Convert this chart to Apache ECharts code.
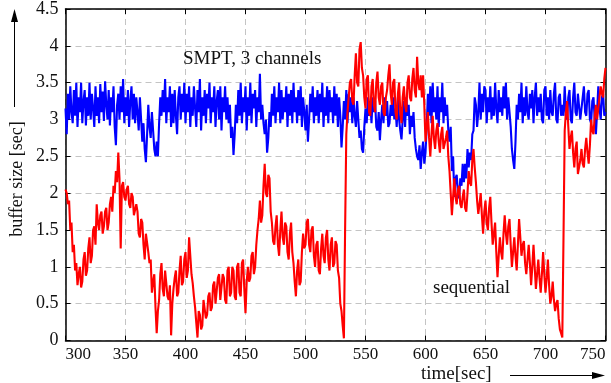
<!DOCTYPE html>
<html>
<head>
<meta charset="utf-8">
<script src="https://cdn.jsdelivr.net/npm/echarts@6/dist/echarts.min.js"></script>
<style>
html,body{margin:0;padding:0;background:#fff;}
#c{width:611px;height:383px;}
</style>
</head>
<body>
<div id="c"></div>
<script>
// sampling grid of both traces: one value per second from 300 s to 750 s
const tStart = 300;
const tStep = 1;

// SMPT, 3 channels (blue) — buffer size [sec], rows of 10 s
const smpt = [
3.15,2.8,3.35,3.0,3.45,3.1,2.95,3.4,3.05,3.5,
2.9,3.3,3.1,3.5,2.95,3.25,3.4,2.92,3.3,3.05,
3.5,3.0,3.35,3.15,2.9,3.45,3.05,3.3,2.95,3.48,
3.1,3.38,2.98,3.52,3.2,3.0,3.4,2.92,3.3,3.1,
3.45,2.9,2.65,3.2,3.35,3.0,3.45,3.1,3.55,2.95,
3.3,3.05,3.4,2.9,3.25,3.45,3.0,3.35,2.95,3.3,
3.1,2.85,3.3,3.0,2.7,2.95,2.6,2.42,2.8,3.2,
2.9,2.75,3.1,2.85,2.6,2.5,2.7,2.5,2.95,3.3,
3.05,3.4,3.1,3.55,2.95,3.3,3.1,3.45,2.9,3.35,
2.95,3.4,3.05,2.8,3.3,3.45,3.0,3.35,3.1,3.5,
2.95,3.35,3.1,3.45,2.9,3.3,3.05,3.45,3.15,2.9,
3.4,3.1,3.55,2.85,3.3,3.05,3.4,2.95,3.35,3.15,
3.5,2.95,3.3,3.1,3.45,2.9,3.25,3.4,3.0,3.45,
2.85,3.3,3.1,3.45,3.0,3.3,2.95,3.2,2.75,2.9,
2.52,2.8,3.2,2.95,3.4,3.05,3.5,2.95,3.3,3.1,
3.45,2.85,3.3,3.05,3.5,2.95,3.35,3.15,3.4,2.9,
3.3,3.1,3.62,3.0,3.2,2.95,2.8,3.0,2.55,2.75,
3.1,2.9,3.35,3.05,3.45,2.95,3.3,3.1,3.5,2.95,
3.4,3.0,3.3,3.1,3.45,2.9,3.35,3.05,3.4,2.95,
3.5,3.1,3.3,2.95,3.4,3.05,3.45,2.9,3.3,3.1,
2.85,3.2,2.7,3.0,3.35,3.1,3.45,2.95,3.3,3.05,
3.4,2.95,3.35,3.1,3.5,2.9,3.3,3.05,3.45,2.95,
3.4,3.1,3.3,2.95,3.45,3.05,3.35,2.9,3.3,3.05,
2.62,2.9,3.25,3.0,3.4,2.95,3.35,3.1,3.3,2.95,
3.3,3.05,2.9,3.25,3.0,2.75,2.85,2.6,2.55,2.9,
3.15,2.95,3.3,3.05,3.25,2.95,3.3,3.1,3.25,2.9,
2.85,3.1,2.72,3.0,3.2,2.95,3.3,3.05,3.25,2.9,
2.95,3.2,3.05,3.3,3.0,3.15,2.9,3.3,3.0,2.85,
2.73,3.0,3.25,2.9,3.3,3.05,3.2,2.8,3.05,2.9,
3.1,2.75,2.6,2.5,2.45,2.65,2.33,2.55,2.7,2.4,
2.55,2.9,3.35,3.05,3.45,2.95,3.5,3.1,3.3,3.0,
3.45,2.9,3.3,3.1,3.5,2.95,3.3,3.05,3.2,2.85,
2.7,2.9,2.3,2.5,1.95,2.2,2.25,2.0,1.93,2.2,
2.1,2.4,2.15,2.4,2.2,2.6,2.35,2.55,2.45,2.8,
2.85,3.3,3.2,2.9,3.1,3.5,3.0,3.35,3.1,3.45,
3.4,2.95,3.3,3.1,3.45,3.0,3.3,3.05,3.5,3.15,
2.95,3.4,3.1,3.3,3.05,3.45,3.15,3.5,3.0,3.3,
3.1,2.9,2.6,2.45,2.33,2.7,3.2,3.0,3.35,3.1,
3.5,2.95,3.3,3.05,3.45,3.1,3.0,3.35,3.15,3.4,
2.95,3.3,3.5,3.05,3.3,3.1,3.35,3.0,2.95,3.4,
3.45,3.05,3.3,3.0,3.4,3.1,3.05,3.35,3.5,3.0,
2.95,3.3,3.35,3.05,3.2,3.05,3.45,3.1,3.0,3.3,
3.4,3.0,2.95,3.3,3.5,3.1,3.05,3.35,3.35,3.0,
3.0,3.3,3.45,3.1,3.05,3.35,3.4,3.0,2.95,3.25,
3.3,3.0,2.8,3.1,3.45,3.15,3.0,3.3,3.35,3.05,
3.1
];

// sequential (red) — buffer size [sec], rows of 10 s
const sequential = [
2.05,2.0,1.85,1.9,1.5,1.6,1.2,1.3,0.95,1.05,
0.75,0.9,1.0,0.72,0.8,1.1,1.2,0.88,0.95,1.25,
1.4,1.05,1.15,1.5,1.55,1.3,1.85,1.6,1.5,1.7,
1.75,1.45,1.55,1.75,1.8,1.5,1.6,1.85,1.95,1.75,
2.1,2.0,2.3,2.15,2.55,2.2,1.25,2.1,2.15,1.95,
1.9,2.05,2.1,1.85,1.8,2.0,1.95,1.7,1.7,1.85,
1.75,1.45,1.4,1.65,1.6,1.3,1.1,1.45,1.45,1.2,
1.05,1.1,0.65,0.8,0.9,0.45,0.1,0.4,0.55,0.9,
1.05,0.7,0.6,0.95,0.95,0.6,0.55,0.75,0.07,0.5,
0.7,0.85,0.95,0.6,0.65,0.95,1.15,0.75,0.8,1.1,
1.2,0.85,0.95,1.4,1.4,0.9,0.78,0.6,0.45,0.24,
0.04,0.4,0.35,0.15,0.2,0.55,0.55,0.3,0.35,0.6,
0.65,0.4,0.45,0.75,0.8,0.5,0.5,0.85,0.9,0.55,
0.55,0.9,0.85,0.55,0.5,0.95,1.0,0.6,0.65,1.0,
0.95,0.6,0.55,1.0,1.05,0.65,0.6,1.05,1.1,0.7,
0.37,0.8,1.0,0.8,0.85,1.15,1.2,0.9,1.0,1.3,
1.5,1.65,1.9,1.6,1.7,2.1,2.4,2.0,1.95,2.25,
2.2,1.75,1.6,1.35,1.3,1.55,1.7,1.3,1.15,1.5,
1.75,1.4,1.3,1.6,1.55,1.2,1.1,1.45,1.6,1.2,
1.05,0.8,0.6,0.95,1.1,0.75,0.8,1.2,1.45,1.25,
1.3,1.6,1.65,1.3,1.2,1.5,1.55,1.15,1.0,1.3,
1.35,0.95,0.9,1.25,1.45,1.15,1.05,1.4,1.5,1.1,
0.95,1.3,1.4,1.0,1.05,1.35,1.3,0.95,0.85,0.5,
0.4,0.2,0.03,1.5,2.8,3.1,3.3,3.5,3.55,3.25,
3.2,3.6,3.9,3.5,3.45,3.95,4.05,3.7,3.6,3.3,
3.15,3.55,3.6,3.1,3.05,3.45,3.55,3.2,3.1,3.5,
3.65,3.3,3.2,3.45,3.5,3.1,3.05,3.3,3.4,3.6,
3.75,3.35,3.2,3.5,3.55,3.1,3.0,3.35,3.5,3.1,
2.95,3.3,3.45,3.2,3.1,3.5,3.6,3.3,3.25,3.55,
3.7,3.4,3.3,3.85,3.5,3.4,3.6,3.3,3.6,3.2,
2.7,2.9,3.1,2.75,2.5,2.8,3.05,2.75,2.6,2.85,
2.95,2.7,2.55,2.8,2.9,2.6,2.6,2.75,2.85,2.5,
2.3,2.0,1.7,1.95,2.2,1.95,1.85,2.05,2.1,1.85,
1.8,1.95,2.05,1.8,1.75,2.0,2.3,2.15,2.1,2.45,
2.6,2.35,2.15,1.9,1.72,1.85,2.0,1.7,1.45,1.75,
1.9,1.6,1.5,1.8,1.95,1.6,1.3,1.45,1.6,1.2,
0.86,1.15,1.4,1.2,1.1,1.45,1.7,1.45,1.3,1.55,
1.65,1.3,1.0,1.2,1.4,1.15,0.95,1.3,1.65,1.4,
1.15,1.3,1.35,1.05,0.9,1.1,1.3,1.05,0.75,1.0,
1.3,1.0,0.7,0.9,1.1,0.85,0.65,0.9,1.2,0.9,
0.65,0.85,1.1,0.75,0.5,0.6,0.8,0.55,0.4,0.5,
0.55,0.3,0.15,0.1,0.04,1.4,2.85,3.1,3.25,2.9,
2.6,2.75,2.85,2.55,2.35,2.6,2.7,2.26,2.25,2.45,
2.6,2.4,2.35,2.6,2.75,2.55,2.4,2.65,3.0,2.85,
2.8,3.05,3.2,3.0,3.0,3.3,3.45,3.35,3.3,3.55,
3.7
];

const xTicks = {min: 300, max: 750, step: 50};
const yTicks = {min: 0, max: 4.5, step: 0.5};

const xTitle = 'time[sec]';
const yTitle = 'buffer size [sec]';
const smptLabel = 'SMPT, 3 channels';
const seqLabel = 'sequential';

function pairs(arr){ return arr.map((v,i)=>[tStart + i*tStep, v]); }

const FONT = '"Liberation Serif", "DejaVu Serif", serif';
const gridLine = {show:true, lineStyle:{color:'#c4c4c4', type:[6,4], width:1}};
const axisLine = {show:true, onZero:false, lineStyle:{color:'#000', width:1.5}};
const axisTick = {show:true, inside:true, length:5, lineStyle:{color:'#000', width:1}};

const chart = echarts.init(document.getElementById('c'), null, {renderer:'canvas'});
chart.setOption({
  animation:false,
  backgroundColor:'#fff',
  grid:{left:65.5, right:5.5, top:7, bottom:42.5, containLabel:false},
  xAxis:[
    {type:'value', min:xTicks.min, max:xTicks.max, interval:xTicks.step,
     axisLine:axisLine, axisTick:axisTick, splitLine:gridLine,
     axisLabel:{color:'#111', fontFamily:FONT, fontSize:17, margin:6,
                alignMinLabel:'left', alignMaxLabel:'right'}},
    {type:'value', position:'top', min:xTicks.min, max:xTicks.max, interval:xTicks.step,
     axisLine:axisLine, axisTick:axisTick, splitLine:{show:false}, axisLabel:{show:false}}
  ],
  yAxis:[
    {type:'value', min:yTicks.min, max:yTicks.max, interval:yTicks.step,
     axisLine:axisLine, axisTick:axisTick, splitLine:gridLine,
     axisLabel:{color:'#111', fontFamily:FONT, fontSize:18, margin:7}},
    {type:'value', position:'right', min:yTicks.min, max:yTicks.max, interval:yTicks.step,
     axisLine:axisLine, axisTick:axisTick, splitLine:{show:false}, axisLabel:{show:false}}
  ],
  series:[
    {type:'line', name:smptLabel, data:pairs(smpt), xAxisIndex:0, yAxisIndex:0,
     showSymbol:false, symbol:'none', silent:true,
     lineStyle:{color:'#0000ff', width:2.1}, z:2},
    {type:'line', name:seqLabel, data:pairs(sequential), xAxisIndex:0, yAxisIndex:0,
     showSymbol:false, symbol:'none', silent:true,
     lineStyle:{color:'#ff0000', width:2.1}, z:3}
  ],
  graphic:[
    {type:'text', left:183, top:50, z:10,
     style:{text:smptLabel, font:'19px '+FONT, fill:'#111'}},
    {type:'text', left:433, top:279, z:10,
     style:{text:seqLabel, font:'19px '+FONT, fill:'#111'}},
    {type:'text', left:421, top:365, z:10,
     style:{text:xTitle, font:'19px '+FONT, fill:'#111'}},
    {type:'text', x:17, y:179, rotation:Math.PI/2, z:10,
     style:{text:yTitle, font:'18px '+FONT, fill:'#111', align:'center', verticalAlign:'middle'}},
    // x-direction arrow
    {type:'line', z:10, shape:{x1:510, y1:375.5, x2:596, y2:375.5}, style:{stroke:'#000', lineWidth:1}},
    {type:'polygon', z:10, shape:{points:[[592,372],[605,375.5],[592,379]]}, style:{fill:'#000'}},
    // y-direction arrow
    {type:'line', z:10, shape:{x1:14.5, y1:107, x2:14.5, y2:18}, style:{stroke:'#000', lineWidth:1}},
    {type:'polygon', z:10, shape:{points:[[11,22],[14.5,9],[18,22]]}, style:{fill:'#000'}}
  ]
});
</script>
</body>
</html>
